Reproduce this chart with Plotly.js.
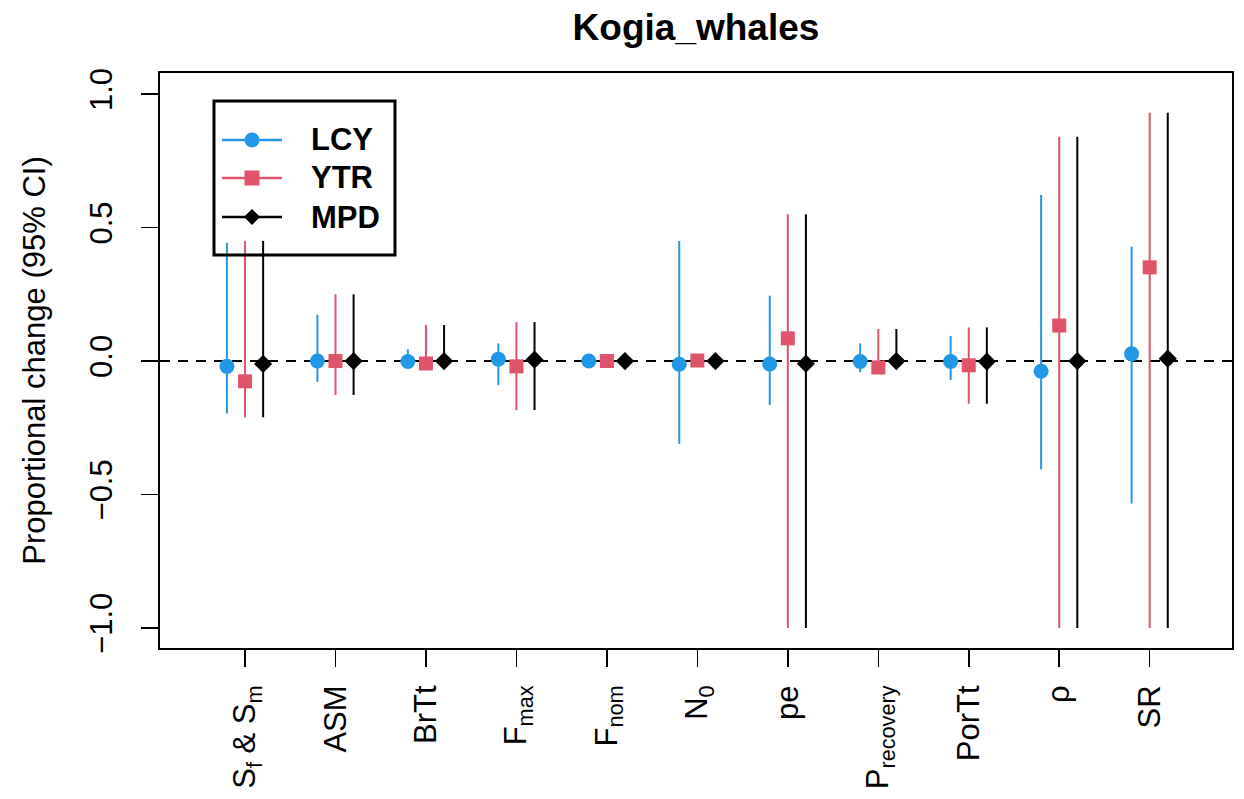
<!DOCTYPE html>
<html>
<head>
<meta charset="utf-8">
<script src="https://cdn.plot.ly/plotly-3.0.1.min.js"></script>
<style>html,body{margin:0;padding:0;background:#fff;}#chart{width:1244px;height:799px;}</style>
</head>
<body>
<div id="chart"></div>
<script>
const categories = ["S<sub>f</sub> & S<sub>m</sub>", "ASM", "BrTt", "F<sub>max</sub>", "F<sub>nom</sub>", "N<sub>0</sub>", "pe", "P<sub>recovery</sub>", "PorTt", "ρ", "SR"];

const lcyEst   = [-0.020, 0.000, -0.002, 0.007, 0.000, -0.012, -0.011, -0.002, -0.002, -0.038, 0.027];
const lcyLower = [-0.196, -0.078, -0.010, -0.090, -0.005, -0.310, -0.165, -0.042, -0.071, -0.405, -0.534];
const lcyUpper = [0.443, 0.173, 0.044, 0.066, 0.005, 0.450, 0.245, 0.066, 0.094, 0.622, 0.428];

const ytrEst   = [-0.076, 0.000, -0.009, -0.020, 0.000, 0.002, 0.085, -0.024, -0.016, 0.133, 0.351];
const ytrLower = [-0.211, -0.127, -0.030, -0.184, -0.005, -0.005, -1.000, -0.040, -0.160, -1.000, -1.000];
const ytrUpper = [0.450, 0.250, 0.135, 0.146, 0.005, 0.005, 0.550, 0.120, 0.126, 0.840, 0.930];

const mpdEst   = [-0.011, 0.000, 0.000, 0.005, 0.000, 0.000, -0.010, 0.000, -0.002, 0.000, 0.009];
const mpdLower = [-0.211, -0.127, -0.005, -0.184, -0.005, -0.005, -1.000, -0.005, -0.160, -1.000, -1.000];
const mpdUpper = [0.450, 0.250, 0.135, 0.146, 0.005, 0.005, 0.550, 0.120, 0.126, 0.840, 0.930];

const seriesNames = ["LCY", "YTR", "MPD"];
const yTickVals = [-1.0, -0.5, 0.0, 0.5, 1.0];
const yTickText = ["\u22121.0", "\u22120.5", "0.0", "0.5", "1.0"];

const FONT = "Liberation Sans, Arial, sans-serif";
const COLORS = ["#2297E6", "#DF536B", "#000000"];
const catPos = categories.map((c, i) => i + 1);

function series(name, est, lo, hi, offset, color, symbol, size) {
  return {
    type: "scatter", mode: "markers", name: name, showlegend: false,
    x: catPos.map(p => p + offset), y: est,
    marker: {color: color, symbol: symbol, size: size, line: {width: 0}},
    error_y: {type: "data", symmetric: false,
      array: hi.map((h, i) => h - est[i]),
      arrayminus: lo.map((l, i) => est[i] - l),
      color: color, thickness: 2, width: 0},
    hoverinfo: "x+y"
  };
}

const data = [
  series(seriesNames[0], lcyEst, lcyLower, lcyUpper, -0.2, COLORS[0], "circle", 15),
  series(seriesNames[1], ytrEst, ytrLower, ytrUpper, 0, COLORS[1], "square", 14),
  series(seriesNames[2], mpdEst, mpdLower, mpdUpper, 0.2, COLORS[2], "diamond", 14)
];

// Legend drawn in paper coordinates (plot area: 160..1232 x, 73..648 y in pixels)
const PL = 160, PW = 1072, PB = 648, PH = 575;
const px = v => (v - PL) / PW;
const py = v => (PB - v) / PH;

const shapes = [{type: "line", xref: "paper", x0: 0, x1: 1, yref: "y", y0: 0, y1: 0,
  line: {color: "#000", width: 2, dash: "10px,8px"}, layer: "below"}];
const annotations = [];

shapes.push({type: "rect", xref: "paper", yref: "paper", x0: px(214), x1: px(395), y0: py(255), y1: py(101),
  fillcolor: "rgba(0,0,0,0)", line: {color: "#000", width: 3}, layer: "above"});
const rowY = [140, 178, 217];
const mx = 252;
seriesNames.forEach((name, i) => {
  const y = rowY[i], c = COLORS[i];
  shapes.push({type: "line", xref: "paper", yref: "paper", x0: px(222), x1: px(282), y0: py(y), y1: py(y),
    line: {color: c, width: 2.5}, layer: "above"});
  if (i === 0) {
    shapes.push({type: "circle", xref: "paper", yref: "paper", x0: px(mx - 7.5), x1: px(mx + 7.5), y0: py(y + 7.5), y1: py(y - 7.5),
      fillcolor: c, line: {width: 0}, layer: "above"});
  } else if (i === 1) {
    shapes.push({type: "rect", xref: "paper", yref: "paper", x0: px(mx - 7.5), x1: px(mx + 7.5), y0: py(y + 7.5), y1: py(y - 7.5),
      fillcolor: c, line: {width: 0}, layer: "above"});
  } else {
    const d = 8;
    shapes.push({type: "path", xref: "paper", yref: "paper",
      path: `M ${px(mx - d)} ${py(y)} L ${px(mx)} ${py(y - d)} L ${px(mx + d)} ${py(y)} L ${px(mx)} ${py(y + d)} Z`,
      fillcolor: c, line: {width: 0}, layer: "above"});
  }
  annotations.push({xref: "paper", yref: "paper", x: px(309), y: py(y), xanchor: "left", yanchor: "middle",
    text: "<b>" + name + "</b>", showarrow: false, font: {family: FONT, size: 31, color: "#000"}});
});

const layout = {
  width: 1244, height: 799,
  margin: {l: 160, r: 12, t: 73, b: 151},
  paper_bgcolor: "#fff", plot_bgcolor: "#fff",
  font: {family: FONT, color: "#000", size: 31},
  title: {text: "<b>Kogia_whales</b>", font: {family: FONT, size: 37, color: "#000"},
    x: 0.5, xref: "paper", xanchor: "center", y: 0.966, yref: "container", yanchor: "middle"},
  xaxis: {
    range: [0.06, 11.91], tickmode: "array", tickvals: catPos, ticktext: categories,
    tickangle: -90, ticks: "outside", ticklen: 17, tickwidth: 1.5, tickcolor: "#000",
    showgrid: false, zeroline: false, showline: true, mirror: true, linecolor: "#000", linewidth: 2,
    tickfont: {family: FONT, size: 31}, ticklabelstandoff: 6
  },
  yaxis: {
    range: [-1.075, 1.079], tickmode: "array", tickvals: yTickVals, ticktext: yTickText,
    tickangle: -90, ticks: "outside", ticklen: 17, tickwidth: 1.5, tickcolor: "#000",
    showgrid: false, zeroline: false, showline: true, mirror: true, linecolor: "#000", linewidth: 2,
    tickfont: {family: FONT, size: 31}, ticklabelstandoff: 17,
    title: {text: "Proportional change (95% CI)", font: {family: FONT, size: 31}, standoff: 29}
  },
  shapes: shapes,
  annotations: annotations,
  showlegend: false
};

Plotly.newPlot("chart", data, layout, {displayModeBar: false, staticPlot: true});
</script>
</body>
</html>
